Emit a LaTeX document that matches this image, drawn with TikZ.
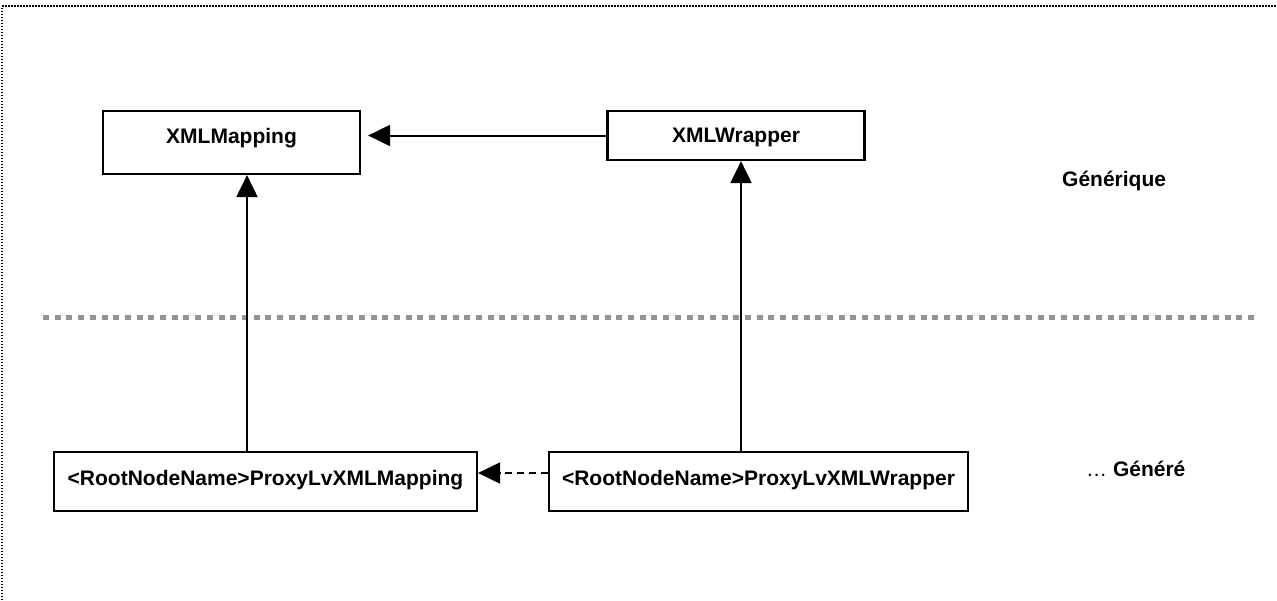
\documentclass[tikz,border=0pt]{standalone}
\usepackage{fontspec}
\setmainfont{Liberation Sans}
\usetikzlibrary{arrows.meta}
\begin{document}
\begin{tikzpicture}[x=1pt,y=-1pt,
  cls/.style={draw=black,line width=2.2pt,inner sep=0pt,fill=white,
    font=\fontsize{21}{25}\selectfont\bfseries},
  arr/.style={line width=2pt,-{Triangle[length=22pt,width=21pt]}},
  lbl/.style={inner sep=0pt,font=\fontsize{21}{25}\selectfont\bfseries}]
\useasboundingbox (0,0) rectangle (1277,600);
% frame
\draw[line width=1.6pt,dash pattern=on 1.5pt off 1.5pt] (2,600) -- (2,6) -- (1277,6);
% separator
\draw[line width=5pt,black!42,dash pattern=on 6pt off 5.7pt] (43,317) -- (1255,317);
% classes
\node[cls,minimum width=257pt,minimum height=63pt,text height=15pt,text depth=14pt] (map) at (231.5,142.5) {XMLMapping};
\node[cls,minimum width=257pt,minimum height=49pt,text height=15pt,text depth=2pt] (wrap) at (736,135.5) {XMLWrapper};
\node[cls,minimum width=423pt,minimum height=59pt,text height=15pt,text depth=8pt] (pmap) at (265.5,481.5) {<RootNodeName>ProxyLvXMLMapping};
\node[cls,minimum width=419pt,minimum height=59pt,text height=15pt,text depth=8pt] (pwrap) at (758.5,481.5) {<RootNodeName>ProxyLvXMLWrapper};
% labels
\node[lbl,anchor=base west] (gen) at (1062,186) {Générique};
\node[lbl,anchor=base west] (gnr) at (1086,476) {{\mdseries …} Généré};
% connectors
\coordinate (a1) at (247,0);
\coordinate (a2) at (741,0);
\coordinate (a3) at (0,473);
\draw[arr,shorten >=7pt] (wrap.west) -- (map.east |- wrap.west);
\draw[arr] (a1 |- pmap.north) -- (a1 |- map.south);
\draw[arr] (a2 |- pwrap.north) -- (a2 |- wrap.south);
\draw[arr,dash pattern=on 7pt off 5pt] (pwrap.west |- a3) -- (pmap.east |- a3);
\end{tikzpicture}
\end{document}
